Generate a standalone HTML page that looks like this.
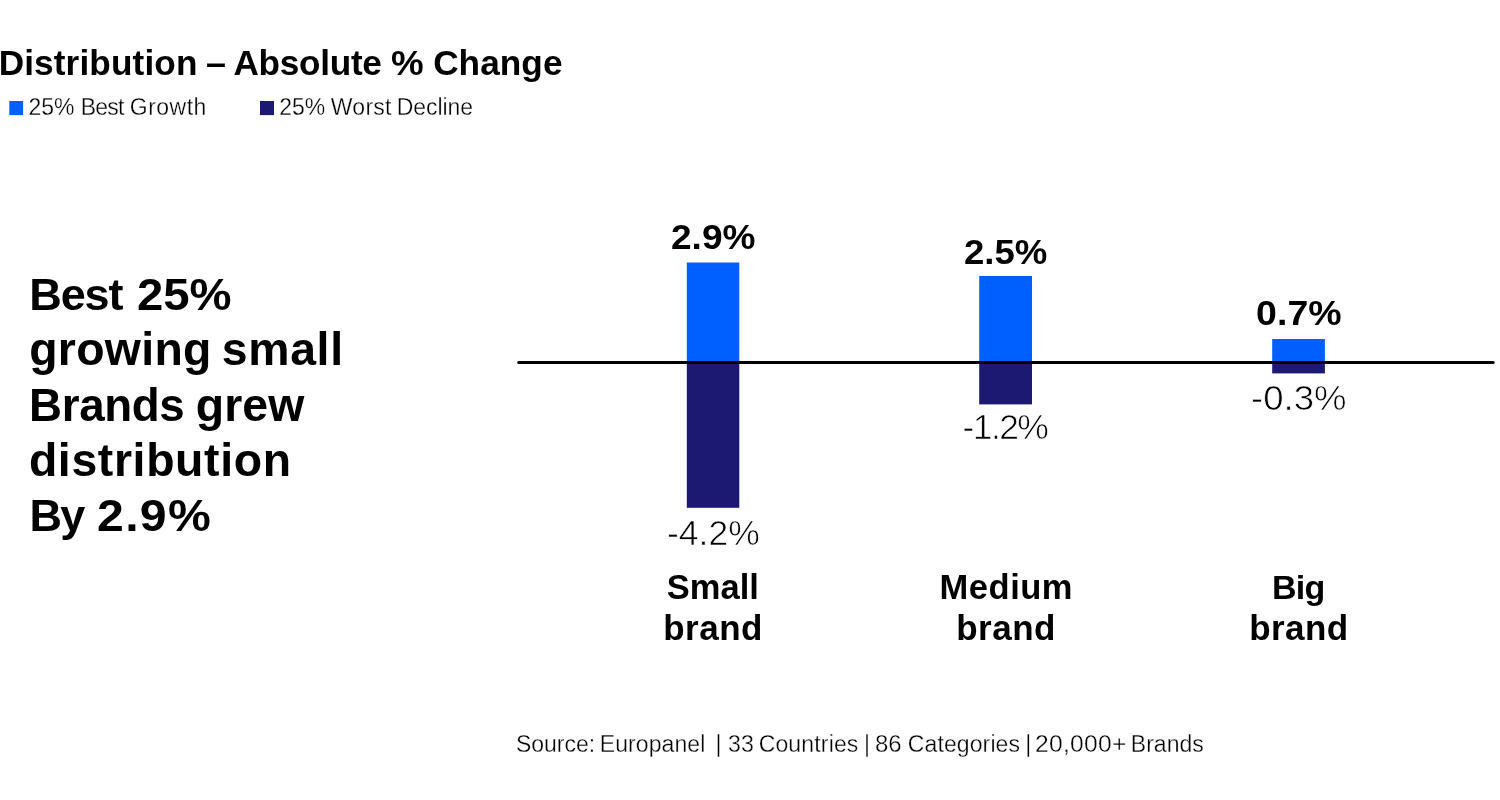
<!DOCTYPE html>
<html lang="en">
<head>
<meta charset="utf-8">
<title>Distribution – Absolute % Change</title>
<style>
html,body{margin:0;padding:0;background:#fff;}
body{width:1500px;height:800px;position:relative;overflow:hidden;font-family:"Liberation Sans",sans-serif;color:#000;}
.g{position:absolute;left:0;top:0;margin:0;padding:0;width:1500px;height:0;line-height:1;font-size:22px;font-weight:normal;white-space:nowrap;}
.w{position:absolute;white-space:nowrap;line-height:1;transform-origin:0 50%;}
.b{font-weight:bold;}
.l{-webkit-text-stroke:0.3px #fff;}
.t{-webkit-text-stroke:0.7px #fff;}
.shapes{position:absolute;left:0;top:0;}
</style>
</head>
<body>
<h1 class="g"><span class="w b" style="left:-1.35px;top:45px;font-size:35.2px;letter-spacing:0.12px;">Distribution</span> <span class="w b" style="left:205.67px;top:46px;font-size:34.7px;transform:scaleX(1.035);">–</span> <span class="w b" style="left:233.4px;top:45px;font-size:35.2px;letter-spacing:-0.29px;">Absolute</span> <span class="w b" style="left:390.64px;top:46px;font-size:34.7px;transform:scaleX(1.059);">%</span> <span class="w b" style="left:433.15px;top:45px;font-size:35.2px;letter-spacing:0.06px;">Change</span></h1>

<svg class="shapes" width="1500" height="800" viewBox="0 0 1500 800" aria-hidden="true">
<rect x="9.3" y="101" width="13.8" height="14.1" fill="#0060ff"/>
<rect x="260" y="101" width="14" height="14.1" fill="#1b1972"/>
<rect x="686.8" y="262.5" width="52.5" height="100" fill="#0060ff"/>
<rect x="686.8" y="362.5" width="52.5" height="145.3" fill="#1b1972"/>
<rect x="979.2" y="276" width="52.8" height="86.5" fill="#0060ff"/>
<rect x="979.2" y="362.5" width="52.8" height="41.9" fill="#1b1972"/>
<rect x="1272.2" y="339" width="52.7" height="23.5" fill="#0060ff"/>
<rect x="1272.2" y="362.5" width="52.7" height="10.9" fill="#1b1972"/>
<line x1="518.7" y1="362.5" x2="1493.2" y2="362.5" stroke="#000" stroke-width="3" stroke-linecap="round"/>
</svg>
<div class="legend">
<div class="g"><span class="w l" style="left:28.38px;top:96px;font-size:23px;">25%</span> <span class="w l" style="left:80.7px;top:96px;font-size:23px;letter-spacing:-0.8px;">Best</span> <span class="w l" style="left:129.85px;top:96px;font-size:23px;letter-spacing:0.46px;">Growth</span></div>
<div class="g"><span class="w l" style="left:279.18px;top:96px;font-size:23px;">25%</span> <span class="w l" style="left:330.85px;top:96px;font-size:23px;letter-spacing:0.23px;">Worst</span> <span class="w l" style="left:396.8px;top:96px;font-size:23px;letter-spacing:-0.07px;">Decline</span></div>
</div>

<div class="headline">
<div class="g"><span class="w b" style="left:29.3px;top:272px;font-size:45px;letter-spacing:-1.13px;">Best</span> <span class="w b" style="left:137.28px;top:272px;font-size:45px;transform:scaleX(1.051);">25%</span></div>
<div class="g"><span class="w b" style="left:29.2px;top:326px;font-size:46.4px;letter-spacing:0.3px;">growing</span> <span class="w b" style="left:221.8px;top:326px;font-size:46.4px;letter-spacing:0.65px;">small</span></div>
<div class="g"><span class="w b" style="left:29.1px;top:383px;font-size:45.7px;letter-spacing:-0.36px;">Brands</span> <span class="w b" style="left:195.65px;top:382px;font-size:46.4px;letter-spacing:0.17px;">grew</span></div>
<div class="g"><span class="w b" style="left:28.9px;top:437px;font-size:46.4px;letter-spacing:0.64px;">distribution</span></div>
<div class="g"><span class="w b" style="left:29.55px;top:493px;font-size:45px;letter-spacing:-1.9px;">By</span> <span class="w b" style="left:97.06px;top:493px;font-size:45px;letter-spacing:1.27px;transform:scaleX(1.07);">2.9%</span></div>
</div>

<div class="chart">
<div class="g"><span class="w b" style="left:670.63px;top:219px;font-size:35px;transform:scaleX(1.058);">2.9%</span></div>
<div class="g"><span class="w b" style="left:963.65px;top:234px;font-size:35px;transform:scaleX(1.045);">2.5%</span></div>
<div class="g"><span class="w b" style="left:1255.95px;top:295px;font-size:35px;letter-spacing:0.07px;transform:scaleX(1.07);">0.7%</span></div>
<div class="g"><span class="w t" style="left:667.01px;top:516px;font-size:35.5px;">-4.2%</span></div>
<div class="g"><span class="w t" style="left:962.6px;top:410px;font-size:35.5px;letter-spacing:-1.6px;">-1.2%</span></div>
<div class="g"><span class="w t" style="left:1250.75px;top:381px;font-size:35.5px;transform:scaleX(1.029);">-0.3%</span></div>
<div class="g"><span class="w b" style="left:666.8px;top:570px;font-size:34.5px;">Small</span></div>
<div class="g"><span class="w b" style="left:663.2px;top:610px;font-size:35px;letter-spacing:0.5px;">brand</span></div>
<div class="g"><span class="w b" style="left:939.6px;top:570px;font-size:34.5px;letter-spacing:0.52px;">Medium</span></div>
<div class="g"><span class="w b" style="left:956.15px;top:610px;font-size:35px;letter-spacing:0.53px;">brand</span></div>
<div class="g"><span class="w b" style="left:1272.1px;top:570px;font-size:34px;letter-spacing:-0.8px;">Big</span></div>
<div class="g"><span class="w b" style="left:1249.15px;top:610px;font-size:35px;letter-spacing:0.47px;">brand</span></div>
</div>

<div class="g"><span class="w l" style="left:515.95px;top:733px;font-size:23px;">Source:</span> <span class="w l" style="left:599.8px;top:733px;font-size:23px;letter-spacing:0.08px;">Europanel</span> <span class="w l" style="left:715.6px;top:733px;font-size:23px;">|</span> <span class="w l" style="left:727.79px;top:733px;font-size:23px;transform:scaleX(1.009);">33</span> <span class="w l" style="left:758.65px;top:733px;font-size:23px;letter-spacing:0.16px;">Countries</span> <span class="w l" style="left:864.05px;top:733px;font-size:23px;">|</span> <span class="w l" style="left:875.46px;top:733px;font-size:23px;transform:scaleX(1.043);">86</span> <span class="w l" style="left:907.8px;top:733px;font-size:23px;letter-spacing:0.11px;">Categories</span> <span class="w l" style="left:1025.15px;top:733px;font-size:23px;">|</span> <span class="w l" style="left:1034.79px;top:733px;font-size:23px;letter-spacing:0.25px;transform:scaleX(1.07);">20,000+</span> <span class="w l" style="left:1130.85px;top:733px;font-size:23px;">Brands</span></div>
</body>
</html>
